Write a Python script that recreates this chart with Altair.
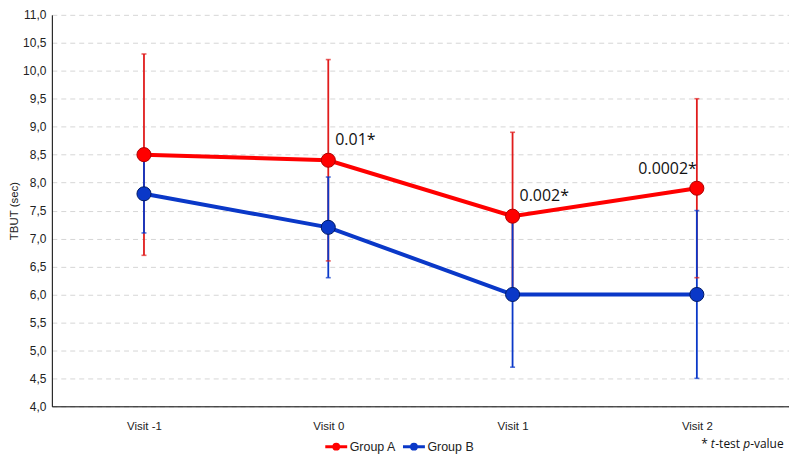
import altair as alt
import pandas as pd

# ---- data ----
visits = ["Visit -1", "Visit 0", "Visit 1", "Visit 2"]
groups = ["Group A", "Group B"]
a_mean = [8.5, 8.4, 7.4, 7.9]
a_low = [6.7, 6.6, 5.9, 6.3]
a_high = [10.3, 10.2, 8.9, 9.5]
b_mean = [7.8, 7.2, 6.0, 6.0]
b_low = [7.1, 6.3, 4.7, 4.5]
b_high = [8.5, 8.1, 7.3, 7.5]
p_labels = ["", "0.01*", "0.002*", "0.0002*"]
y_ticks = [4.0, 4.5, 5.0, 5.5, 6.0, 6.5, 7.0, 7.5, 8.0, 8.5, 9.0, 9.5, 10.0, 10.5, 11.0]

RED = "#ff0000"
RED_BAR = "#e01c1c"
BLUE = "#0a38c8"
RED_EDGE = "#b00000"
BLUE_EDGE = "#001a66"

rows = []
for g, m, lo, hi in [("Group A", a_mean, a_low, a_high), ("Group B", b_mean, b_low, b_high)]:
    for i, v in enumerate(visits):
        rows.append({"group": g, "visit": v, "mean": m[i], "low": lo[i], "high": hi[i]})
df = pd.DataFrame(rows)
ann = pd.DataFrame({"visit": visits, "mean": a_mean, "label": p_labels})

FONT = "Liberation Sans"
NOTE_FONT = "Open Sans"

x_enc = alt.X(
    "visit:N",
    sort=visits,
    scale=alt.Scale(type="point", padding=0.5),
    axis=alt.Axis(
        title=None, labelAngle=0, ticks=False, grid=False, domainColor="#000000",
        domainWidth=1, labelPadding=14, labelFont=FONT, labelFontSize=11.5, labelColor="#222222",
    ),
)
y_scale = alt.Scale(domain=[4, 11], nice=False, zero=False)
y_axis = alt.Axis(
    title="TBUT (sec)", values=y_ticks,
    labelExpr="replace(format(datum.value, '.1f'), '.', ',')",
    labelOverlap=False,
    ticks=False, grid=True, gridDash=[5, 4], gridColor="#d6d6d6", gridWidth=1,
    domainColor="#000000", domainWidth=1, labelPadding=6,
    labelFont=FONT, labelFontSize=12, labelColor="#222222",
    titleFont=FONT, titleFontSize=11.5, titleFontWeight="normal", titleColor="#222222",
    titlePadding=3,
)


def yq(field):
    return alt.Y(field, type="quantitative", scale=y_scale, axis=y_axis)


color_scale = alt.Scale(domain=groups, range=[RED, BLUE])
bar_scale = alt.Scale(domain=groups, range=[RED_BAR, BLUE])
edge_scale = alt.Scale(domain=groups, range=[RED_EDGE, BLUE_EDGE])

base = alt.Chart(df)

rules = base.mark_rule(strokeWidth=1.8).encode(
    x=x_enc,
    y=yq("low"),
    y2="high:Q",
    color=alt.Color("group:N", scale=bar_scale, legend=None),
)
caps_low = base.mark_tick(size=5, thickness=1.6, orient="horizontal").encode(
    x=x_enc, y=yq("low"),
    color=alt.Color("group:N", scale=bar_scale, legend=None),
)
caps_high = base.mark_tick(size=5, thickness=1.6, orient="horizontal").encode(
    x=x_enc, y=yq("high"),
    color=alt.Color("group:N", scale=bar_scale, legend=None),
)

legend_symbol = "M-1,0L1,0M-0.22,0A0.22,0.22,0,1,1,0.22,0A0.22,0.22,0,1,1,-0.22,0Z"
lines = base.mark_line(strokeWidth=4).encode(
    x=x_enc,
    y=yq("mean"),
    detail="group:N",
    color=alt.Color(
        "group:N", scale=color_scale,
        legend=alt.Legend(
            title=None, orient="none", direction="horizontal",
            legendX=273, legendY=421,
            symbolType=legend_symbol, symbolSize=484, symbolStrokeWidth=3,
            labelFont=FONT, labelFontSize=12.5, labelColor="#222222",
            labelOffset=1, columnPadding=0, padding=0,
        ),
    ),
)
points = base.mark_point(filled=True, size=200, strokeWidth=1, opacity=1).encode(
    x=x_enc,
    y=yq("mean"),
    fill=alt.Fill("group:N", scale=color_scale, legend=None),
    stroke=alt.Stroke("group:N", scale=edge_scale, legend=None),
)

ann_base = alt.Chart(ann)
ann_left = ann_base.transform_filter(
    "datum.label != '' && datum.visit != 'Visit 2'"
).mark_text(align="left", baseline="middle", dx=7, dy=-20, font=NOTE_FONT, fontSize=16, color="#111111").encode(
    x=x_enc, y=yq("mean"), text="label:N"
)
ann_right = ann_base.transform_filter(
    "datum.visit == 'Visit 2'"
).mark_text(align="right", baseline="middle", dx=0, dy=-19, font=NOTE_FONT, fontSize=16, color="#111111").encode(
    x=x_enc, y=yq("mean"), text="label:N"
)


def note(piece, xpos, italic=False):
    return alt.Chart(alt.Data(values=[{"s": piece}])).mark_text(
        align="left", baseline="middle", font=NOTE_FONT, fontSize=12,
        fontStyle="italic" if italic else "normal", color="#111111",
    ).encode(x=alt.value(xpos), y=alt.value(431), text="s:N")


footnote = [
    note("*", 652),
    note("t", 661.5, True),
    note("-test", 666),
    note("p", 694, True),
    note("-value", 701),
]

chart = alt.layer(
    rules, caps_low, caps_high, lines, points, ann_left, ann_right, *footnote
).properties(
    width=740,
    height=393,
    autosize=alt.AutoSizeParams(type="none"),
    padding={"left": 44, "top": 6, "right": 0, "bottom": 47},
).configure_view(stroke=None).resolve_scale(color="independent")

chart.save("out.html", embed_options={"renderer": "svg", "actions": False})
